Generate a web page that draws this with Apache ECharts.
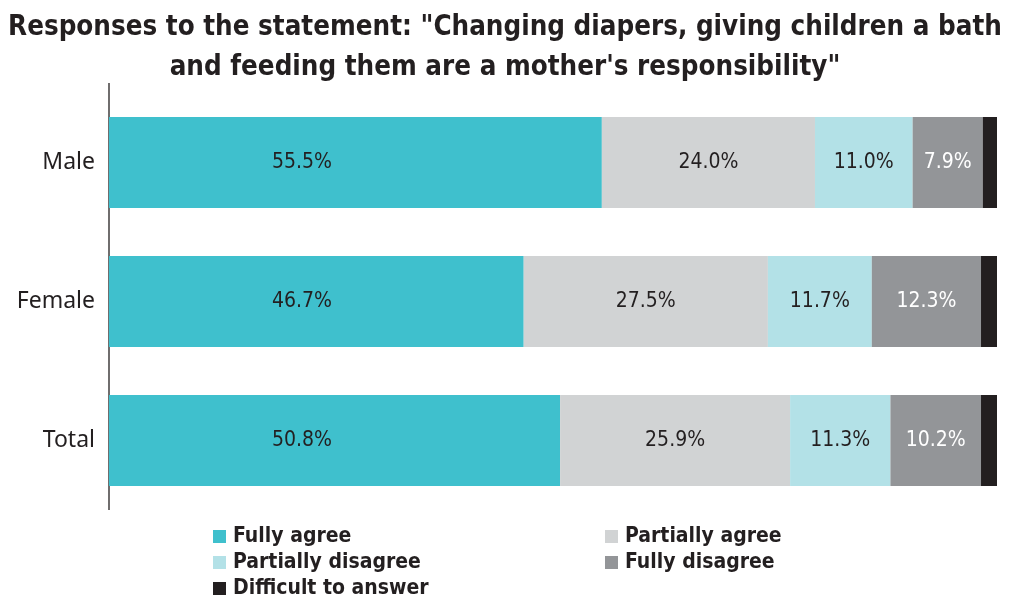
<!DOCTYPE html>
<html>
<head>
<meta charset="utf-8">
<script src="https://cdn.jsdelivr.net/npm/echarts@6/dist/echarts.min.js"></script>
<style>
  html, body { margin: 0; padding: 0; background: #fff; }
  #chart { width: 1010px; height: 600px; }
</style>
</head>
<body>
<div id="chart"></div>
<script>
// Response groups, top to bottom
const categories = ['Male', 'Female', 'Total'];

// Shares of respondents (%) per answer, in the order of categories
const fullyAgree        = [55.5, 46.7, 50.8];
const partiallyAgree    = [24.0, 27.5, 25.9];
const partiallyDisagree = [11.0, 11.7, 11.3];
const fullyDisagree     = [7.9, 12.3, 10.2];
const difficult         = [1.6, 1.8, 1.8];

const seriesNames = ['Fully agree', 'Partially agree', 'Partially disagree', 'Fully disagree', 'Difficult to answer'];
const seriesValues = [fullyAgree, partiallyAgree, partiallyDisagree, fullyDisagree, difficult];
const seriesColors = ['#3FC0CD', '#D1D3D4', '#B3E1E7', '#939598', '#231F20'];
const labelColors = ['#231F20', '#231F20', '#231F20', '#ffffff', null];

const FONT = '"Noto Sans", sans-serif';
const COND_FONT = '"DejaVu Sans Condensed", "Noto Sans", sans-serif';
const TEXT = '#231F20';

const chart = echarts.init(document.getElementById('chart'), null, { renderer: 'canvas' });

const series = seriesNames.map((name, i) => {
  const label = {
    show: labelColors[i] !== null,
    position: 'inside',
    color: labelColors[i] || TEXT,
    fontFamily: COND_FONT,
    fontSize: 21,
    formatter: p => p.value.toFixed(1) + '%'
  };
  // the first segment keeps its labels in one column near the left
  if (i === 0) {
    Object.assign(label, { position: [193, '50%'], align: 'center', verticalAlign: 'middle' });
  }
  return {
    name,
    type: 'bar',
    stack: 'all',
    barWidth: 91,
    itemStyle: { color: seriesColors[i] },
    label,
    emphasis: { disabled: true },
    data: seriesValues[i]
  };
});

// Legend entries laid out in two columns, three rows
const legendSlots = [
  { name: 'Fully agree',         left: 213, top: 526 },
  { name: 'Partially agree',     left: 605, top: 526 },
  { name: 'Partially disagree',  left: 213, top: 552 },
  { name: 'Fully disagree',      left: 605, top: 552 },
  { name: 'Difficult to answer', left: 213, top: 578 }
];

chart.setOption({
  animation: false,
  backgroundColor: '#ffffff',
  title: {
    text: 'Responses to the statement: "Changing diapers, giving children a bath\nand feeding them are a mother\'s responsibility"',
    left: 'center',
    top: 3,
    textStyle: { fontFamily: COND_FONT, fontWeight: 'bold', fontSize: 27.5, lineHeight: 40, color: TEXT }
  },
  legend: legendSlots.map(s => ({
    left: s.left,
    top: s.top,
    padding: 0,
    icon: 'rect',
    itemWidth: 13,
    itemHeight: 13,
    selectedMode: false,
    data: [s.name],
    textStyle: { fontFamily: COND_FONT, fontWeight: 'bold', fontSize: 21, color: TEXT, padding: [0, 0, 0, 2] }
  })),
  grid: { left: 109, right: 13, top: 93, height: 417 },
  xAxis: {
    type: 'value',
    min: 0,
    max: 100,
    show: false
  },
  yAxis: {
    type: 'category',
    inverse: true,
    data: categories,
    axisLine: { show: false },
    axisTick: { show: false },
    axisLabel: { fontFamily: FONT, fontSize: 23, color: TEXT, margin: 14 }
  },
  graphic: [{
    type: 'line',
    shape: { x1: 109, y1: 83, x2: 109, y2: 510 },
    style: { stroke: '#231F20', lineWidth: 1.3 }
  }],
  series
});
</script>
</body>
</html>
